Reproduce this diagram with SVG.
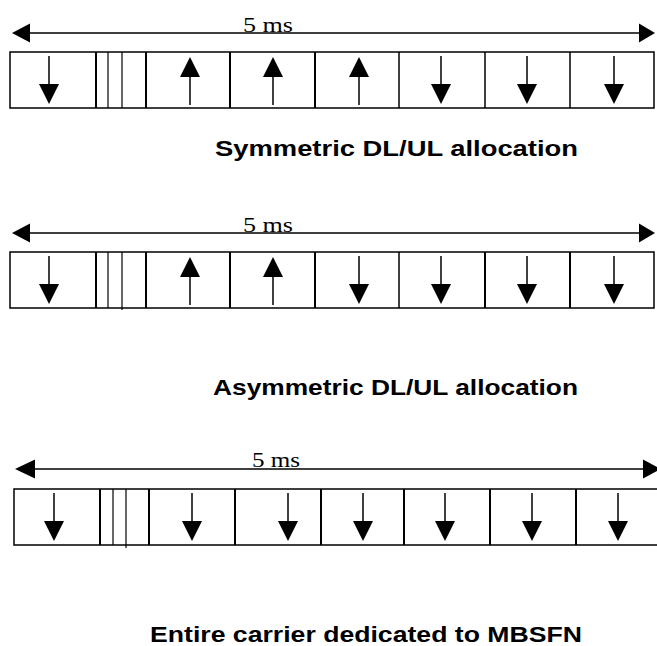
<svg xmlns="http://www.w3.org/2000/svg" xmlns:xlink="http://www.w3.org/1999/xlink" width="657" height="646" viewBox="0 0 657 646">
<style>
.box{fill:#fff;stroke:#000;stroke-width:1.5}
.div{stroke:#000;stroke-width:2;fill:none}
.thin{stroke:#000;stroke-width:1.2;fill:none}
.ln{stroke:#000;stroke-width:1.5;fill:none}
.hd{fill:#000;stroke:none}
.ms{font-family:"Liberation Serif","Times New Roman",serif;font-size:21px;fill:#000}
.cap{font-family:"Liberation Sans",Arial,sans-serif;font-size:22px;font-weight:bold;fill:#000}
</style>
<defs>
<g id="dn"><line x1="0" y1="0" x2="0" y2="30" class="ln"/><polygon points="-10,28 10,28 0,48" class="hd"/></g>
<g id="up"><polygon points="0,0 -10,20 10,20" class="hd"/><line x1="0" y1="18" x2="0" y2="48" class="ln"/></g>
</defs>
<rect width="657" height="646" fill="#fff"/>

<!-- Frame 1 -->
<g id="frame1">
<rect class="box" x="10" y="52" width="644" height="56"/>
<g id="f1-c1"><use xlink:href="#dn" x="49" y="56"/></g>
<g id="f1-sp"><line class="div" x1="96" y1="52" x2="96" y2="108"/><line class="thin" x1="108" y1="52" x2="108" y2="108"/><line class="thin" x1="122" y1="52" x2="122" y2="108"/><line class="div" x1="146" y1="52" x2="146" y2="108"/></g>
<g id="f1-c2"><use xlink:href="#up" x="190" y="57"/></g>
<g id="f1-c3"><line class="div" x1="230" y1="52" x2="230" y2="108"/><use xlink:href="#up" x="273" y="57"/></g>
<g id="f1-c4"><line class="div" x1="315" y1="52" x2="315" y2="108"/><use xlink:href="#up" x="359" y="57"/></g>
<g id="f1-c5"><line class="ln" x1="399" y1="52" x2="399" y2="108"/><use xlink:href="#dn" x="441" y="56"/></g>
<g id="f1-c6"><line class="ln" x1="485" y1="52" x2="485" y2="108"/><use xlink:href="#dn" x="527" y="56"/></g>
<g id="f1-c7"><line class="ln" x1="570" y1="52" x2="570" y2="108"/><use xlink:href="#dn" x="614" y="56"/></g>
</g>

<!-- Frame 2 -->
<g id="frame2">
<rect class="box" x="10" y="252" width="644" height="56"/>
<g id="f2-c1"><use xlink:href="#dn" x="49" y="256"/></g>
<g id="f2-sp"><line class="div" x1="96" y1="252" x2="96" y2="308"/><line class="thin" x1="108" y1="252" x2="108" y2="308"/><line class="thin" x1="122" y1="252" x2="122" y2="310"/><line class="div" x1="146" y1="252" x2="146" y2="308"/></g>
<g id="f2-c2"><use xlink:href="#up" x="190" y="257"/></g>
<g id="f2-c3"><line class="div" x1="230" y1="252" x2="230" y2="308"/><use xlink:href="#up" x="273" y="257"/></g>
<g id="f2-c4"><line class="div" x1="315" y1="252" x2="315" y2="308"/><use xlink:href="#dn" x="359" y="256"/></g>
<g id="f2-c5"><line class="ln" x1="399" y1="252" x2="399" y2="308"/><use xlink:href="#dn" x="441" y="256"/></g>
<g id="f2-c6"><line class="div" x1="485" y1="252" x2="485" y2="308"/><use xlink:href="#dn" x="527" y="256"/></g>
<g id="f2-c7"><line class="div" x1="570" y1="252" x2="570" y2="308"/><use xlink:href="#dn" x="614" y="256"/></g>
</g>

<!-- Frame 3 -->
<g id="frame3">
<rect class="box" x="14" y="489" width="660" height="56"/>
<g id="f3-c1"><use xlink:href="#dn" x="54" y="493"/></g>
<g id="f3-sp"><line class="div" x1="100" y1="489" x2="100" y2="545"/><line class="thin" x1="113" y1="489" x2="113" y2="545"/><line class="thin" x1="126" y1="489" x2="126" y2="548"/><line class="div" x1="149" y1="489" x2="149" y2="545"/></g>
<g id="f3-c2"><use xlink:href="#dn" x="192" y="493"/></g>
<g id="f3-c3"><line class="div" x1="235" y1="489" x2="235" y2="545"/><use xlink:href="#dn" x="288" y="493"/></g>
<g id="f3-c4"><line class="div" x1="321" y1="489" x2="321" y2="545"/><use xlink:href="#dn" x="363" y="493"/></g>
<g id="f3-c5"><line class="div" x1="404" y1="489" x2="404" y2="545"/><use xlink:href="#dn" x="445" y="493"/></g>
<g id="f3-c6"><line class="div" x1="490" y1="489" x2="490" y2="545"/><use xlink:href="#dn" x="532" y="493"/></g>
<g id="f3-c7"><line class="div" x1="576" y1="489" x2="576" y2="545"/><use xlink:href="#dn" x="618" y="493"/></g>
</g>

<!-- Connectors: 5 ms span arrows -->
<g id="connectors">
<line class="ln" x1="28" y1="33" x2="641" y2="33"/>
<polygon class="hd" points="12,33 30,23.5 30,42.5"/>
<polygon class="hd" points="655,33 639,23.5 639,42.5"/>
<line class="ln" x1="28" y1="233" x2="641" y2="233"/>
<polygon class="hd" points="12,233 30,223.5 30,242.5"/>
<polygon class="hd" points="655,233 639,223.5 639,242.5"/>
<line class="ln" x1="33" y1="469" x2="645" y2="469"/>
<polygon class="hd" points="15,469 35,459.5 35,478.5"/>
<polygon class="hd" points="661,469 643,459.5 643,478.5"/>
</g>

<g id="labels">
<text class="ms" x="243" y="32" textLength="50" lengthAdjust="spacingAndGlyphs">5 ms</text>
<text class="ms" x="243" y="232" textLength="50" lengthAdjust="spacingAndGlyphs">5 ms</text>
<text class="ms" x="252" y="467" textLength="48" lengthAdjust="spacingAndGlyphs">5 ms</text>
<text class="cap" x="215" y="156" textLength="363" lengthAdjust="spacingAndGlyphs">Symmetric DL/UL allocation</text>
<text class="cap" x="213" y="395" textLength="365" lengthAdjust="spacingAndGlyphs">Asymmetric DL/UL allocation</text>
<text class="cap" x="150" y="642" textLength="432" lengthAdjust="spacingAndGlyphs">Entire carrier dedicated to MBSFN</text>
</g>
</svg>
